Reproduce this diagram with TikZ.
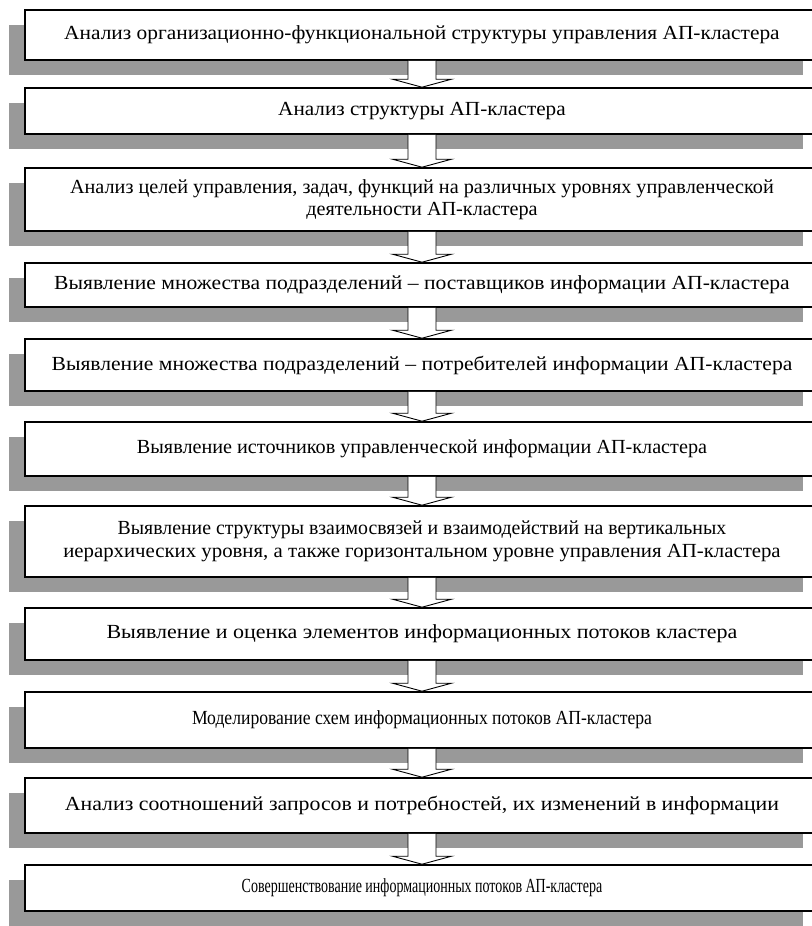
\documentclass[tikz,border=0pt]{standalone}
\usepackage{fontspec}
\usepackage{graphicx}
\setmainfont{Liberation Serif}
\usetikzlibrary{calc}
\tikzset{
  stepbox/.style={draw=black, line width=1.6pt, fill=white, minimum width=794pt, inner sep=0pt, align=center,
    font=\fontsize{20pt}{22.5pt}\selectfont},
  shadowfill/.style={fill=black!40},
  blockarr/.style={draw=black, line width=0.9pt, fill=white, line join=miter}
}
\newcommand{\boxrow}[4]{% name, top, bottom, text
  \fill[shadowfill] (25-16,#2+15) rectangle (819-16,#3+15);
  \node[stepbox, minimum height={(#3-#2)*1pt}] (#1) at (422,{(#2+#3)/2}) {#4};
}
\newcommand{\sx}[2]{\scalebox{#1}[1]{#2}}
\newcommand{\flowarrow}[2]{%
  \draw[blockarr] let \p1=(#1.south), \p2=(#2.north) in
    (\x1-14pt,\y1) -- (\x1-14pt,\y2+8pt) -- (\x1-29.5pt,\y2+8pt) -- (\x1,\y2)
    -- (\x1+29.5pt,\y2+8pt) -- (\x1+14pt,\y2+8pt) -- (\x1+14pt,\y1);
}
\begin{document}
\begin{tikzpicture}[x=1pt,y=-1pt]
\useasboundingbox (0,0) rectangle (811,926);
\boxrow{b1}{10}{60}{\sx{1.07}{Анализ организационно-функциональной структуры управления АП-кластера}}
\boxrow{b2}{88}{134}{\sx{1.06}{Анализ структуры АП-кластера}}
\boxrow{b3}{168}{231}{\sx{1.01}{Анализ целей управления, задач, функций на различных уровнях управленческой}\\\sx{1.01}{деятельности АП-кластера}}
\boxrow{b4}{263}{307}{\sx{1.08}{Выявление множества подразделений – поставщиков информации АП-кластера}}
\boxrow{b5}{339}{391}{\sx{1.08}{Выявление множества подразделений – потребителей информации АП-кластера}}
\boxrow{b6}{422}{476}{\sx{1.01}{Выявление источников управленческой информации АП-кластера}}
\boxrow{b7}{506}{577}{\sx{0.99}{Выявление структуры взаимосвязей и взаимодействий на вертикальных}\\\sx{1.04}{иерархических уровня, а также горизонтальном уровне управления АП-кластера}}
\boxrow{b8}{608}{660}{\sx{1.1}{Выявление и оценка элементов информационных потоков кластера}}
\boxrow{b9}{692}{748}{\sx{0.88}{Моделирование схем информационных потоков АП-кластера}}
\boxrow{b10}{778}{833}{\sx{1.09}{Анализ соотношений запросов и потребностей, их изменений в информации}}
\boxrow{b11}{865}{911}{\sx{0.7}{Совершенствование информационных потоков АП-кластера}}
\flowarrow{b1}{b2}
\flowarrow{b2}{b3}
\flowarrow{b3}{b4}
\flowarrow{b4}{b5}
\flowarrow{b5}{b6}
\flowarrow{b6}{b7}
\flowarrow{b7}{b8}
\flowarrow{b8}{b9}
\flowarrow{b9}{b10}
\flowarrow{b10}{b11}
\end{tikzpicture}
\end{document}
